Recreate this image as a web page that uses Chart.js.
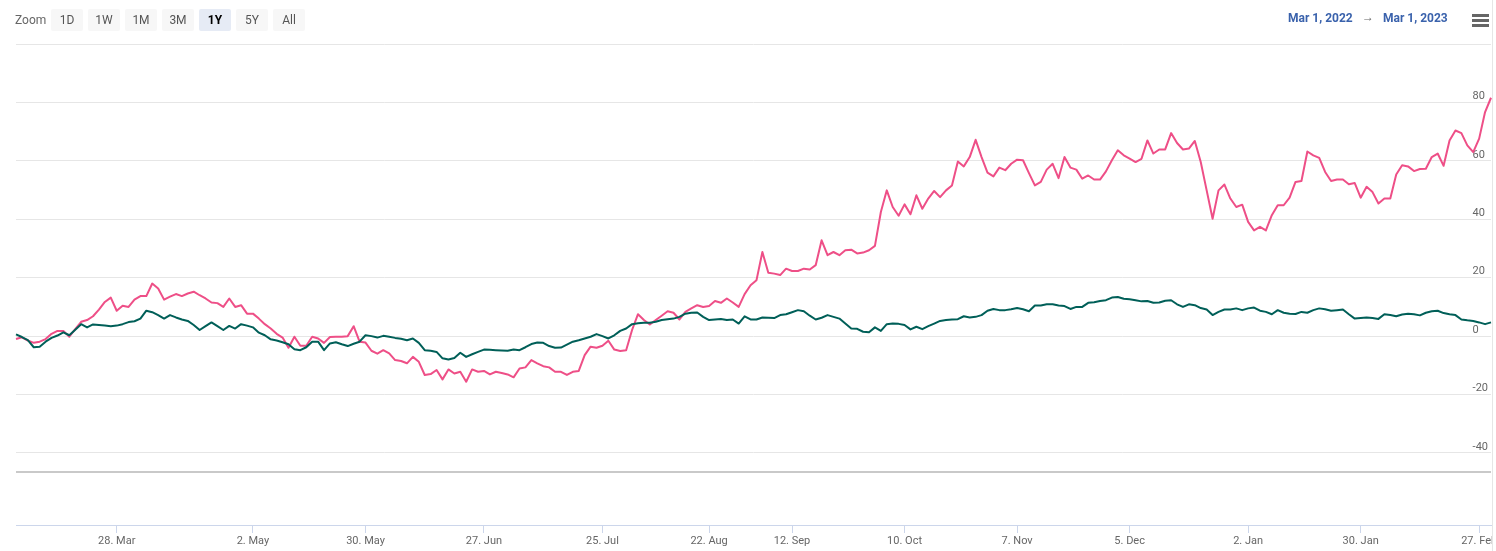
<!DOCTYPE html>
<html>
<head>
<meta charset="utf-8">
<title>1Y price change</title>
<script src="https://cdn.jsdelivr.net/npm/chart.js@4.4.1/dist/chart.umd.min.js"></script>
<style>
  html, body { margin: 0; padding: 0; background: #fff; }
  #wrap { position: relative; width: 1496px; height: 551px; overflow: hidden; font-family: Roboto, sans-serif; }
  #chartBox { position: absolute; left: 0; top: 0; width: 1496px; height: 551px; }
  .zoom-label { position: absolute; left: 15px; top: 13px; font-size: 12px; color: #666; }
  .btn { position: absolute; top: 9px; width: 32px; height: 22px; line-height: 22px; text-align: center;
         background: #f7f7f7; border-radius: 2px; font-size: 12px; color: #555; }
  .btn.active { background: #e6ebf5; color: #000; font-weight: bold; }
  .range { position: absolute; top: 11px; font-size: 12px; font-weight: bold; color: #3a62ac; }
  .arrow { position: absolute; top: 10px; left: 1362px; font-size: 12px; color: #666; }
  .menu span { position: absolute; left: 1472px; width: 17px; height: 3px; background: #666; }
  .edge { position: absolute; left: 1492px; top: 0; width: 4px; height: 551px; background: #fff; border-left: 1px solid #e6e6e6; }
</style>
</head>
<body>
<div id="wrap">
  <div id="chartBox"><canvas id="perfChart"></canvas></div>
  <div class="zoom-label">Zoom</div>
  <div class="btn" style="left:51px">1D</div>
  <div class="btn" style="left:88px">1W</div>
  <div class="btn" style="left:125px">1M</div>
  <div class="btn" style="left:162px">3M</div>
  <div class="btn active" style="left:199px">1Y</div>
  <div class="btn" style="left:236px">5Y</div>
  <div class="btn" style="left:273px">All</div>
  <div class="range" style="left:1288px">Mar 1, 2022</div>
  <div class="arrow">&rarr;</div>
  <div class="range" style="left:1383px">Mar 1, 2023</div>
  <div class="menu"><span style="top:14px"></span><span style="top:19px"></span><span style="top:24px"></span></div>
  <div class="edge"></div>
</div>
<script>
/* 1Y % change: stock vs index, trading days only */

const COLORS = {
  pink: '#ee4f87',
  green: '#005f58',
  grid: '#e6e6e6',
  navLine: '#c9c9c9',
  axis: '#ccd6eb',
  text: '#666666',
};

const FIRST_DAY = '2022-03-02';
const LAST_DAY = '2023-03-01';
const HOLIDAYS = [
  '2022-03-18', '2022-04-14', '2022-04-15', '2022-05-03', '2022-08-09', '2022-08-15',
  '2022-08-31', '2022-10-05', '2022-10-26', '2022-11-08', '2023-01-26',
];

const TICK_DATES = [
  '2022-03-28', '2022-05-02', '2022-05-30', '2022-06-27', '2022-07-25', '2022-08-22', '2022-09-12',
  '2022-10-10', '2022-11-07', '2022-12-05', '2023-01-02', '2023-01-30', '2023-02-27',
];
const TICK_LABELS = [
  '28. Mar', '2. May', '30. May', '27. Jun', '25. Jul', '22. Aug', '12. Sep',
  '10. Oct', '7. Nov', '5. Dec', '2. Jan', '30. Jan', '27. Feb',
];
const Y_TICKS = [-40, -20, 0, 20, 40, 60, 80, 100];
const Y_MIN = -64.65;
const Y_MAX = 100;
const NAV_LINE = -46.5;

// % change of the stock (pink)
const stockChange = [
  -1.0, -0.4, -1.5, -2.3, -1.9, -1.0, 0.8, 1.8, 1.8, -0.2,
  2.4, 4.9, 5.5, 6.8, 9.1, 11.7, 13.2, 8.7, 10.4, 10.0,
  12.5, 13.7, 13.7, 18.0, 16.3, 12.5, 13.5, 14.4, 13.7, 14.6,
  15.2, 14.0, 12.9, 11.5, 11.3, 10.0, 12.9, 10.0, 10.6, 7.7,
  7.7, 6.0, 4.1, 2.6, 0.8, -0.5, -4.0, -0.2, -3.3, -3.3,
  -0.2, -0.8, -2.3, -0.3, -0.2, -0.2, 0.0, 3.4, -1.9, -2.2,
  -5.0, -6.0, -4.8, -5.9, -8.2, -8.5, -9.3, -7.1, -8.8, -13.3,
  -13.0, -11.6, -14.8, -11.4, -12.8, -12.2, -15.6, -11.4, -12.2, -11.9,
  -13.1, -12.2, -12.6, -13.1, -14.1, -11.1, -10.7, -8.2, -9.3, -10.3,
  -10.7, -12.2, -12.2, -13.3, -12.2, -11.9, -6.5, -3.6, -4.0, -3.3,
  -1.6, -4.6, -5.1, -4.8, 2.1, 7.5, 5.5, 4.0, 5.5, 7.0,
  8.5, 8.0, 5.7, 8.3, 9.5, 10.6, 10.0, 10.3, 12.0, 11.4,
  12.9, 11.5, 10.0, 14.4, 17.4, 19.1, 28.8, 21.7, 21.4, 20.9,
  23.1, 22.3, 22.3, 23.1, 22.8, 24.3, 32.8, 27.7, 28.8, 27.7,
  29.4, 29.6, 28.3, 28.6, 29.4, 30.9, 42.5, 49.9, 44.2, 41.2,
  45.1, 41.7, 48.2, 43.6, 47.1, 49.7, 47.6, 49.9, 51.6, 59.8,
  58.1, 61.3, 67.2, 61.3, 56.0, 54.7, 57.7, 56.8, 59.0, 60.4,
  60.2, 55.8, 51.6, 52.8, 57.0, 59.0, 54.1, 61.3, 57.7, 57.0,
  53.9, 55.0, 53.6, 53.6, 56.4, 60.2, 63.6, 61.9, 60.8, 59.6,
  60.7, 67.0, 62.5, 63.9, 63.9, 69.5, 66.1, 63.9, 64.2, 66.8,
  59.6, 49.9, 40.2, 49.9, 51.9, 47.1, 44.2, 45.0, 39.1, 36.2,
  37.4, 36.2, 41.4, 44.8, 44.8, 47.4, 52.8, 53.1, 63.2, 61.9,
  61.0, 56.2, 53.1, 53.6, 53.6, 52.0, 52.4, 47.4, 51.1, 49.3,
  45.4, 47.1, 47.1, 55.3, 58.5, 58.1, 56.5, 57.2, 57.3, 61.3,
  62.5, 58.3, 67.0, 70.4, 69.5, 65.3, 63.0, 67.6, 76.7, 81.6,
];

// % change of the index (green)
const indexChange = [
  0.6, -0.3, -1.4, -3.8, -3.6, -1.9, -0.6, 0.2, 1.3, 0.3,
  2.2, 4.1, 3.0, 4.0, 3.8, 3.6, 3.4, 3.6, 4.1, 4.8,
  5.1, 6.0, 8.7, 8.2, 7.2, 6.0, 7.2, 6.4, 5.7, 5.2,
  3.8, 2.1, 3.4, 4.7, 3.4, 2.1, 3.5, 2.6, 4.1, 3.6,
  3.0, 1.2, 0.3, -1.1, -1.5, -2.1, -2.8, -4.5, -4.8, -3.8,
  -1.9, -1.9, -4.8, -2.5, -2.1, -2.8, -3.4, -2.6, -1.9, 0.3,
  0.0, -0.5, 0.1, -0.2, -0.6, -0.9, -1.4, -0.8, -2.3, -4.8,
  -5.0, -5.4, -7.6, -8.0, -7.5, -5.7, -7.1, -6.2, -5.4, -4.6,
  -4.7, -4.8, -4.9, -5.0, -4.6, -4.8, -3.8, -2.7, -2.2, -2.3,
  -3.4, -4.0, -3.9, -2.9, -1.9, -1.4, -0.8, -0.2, 0.7, 0.0,
  -0.8, 0.3, 1.8, 2.6, 4.1, 4.4, 4.6, 4.6, 4.9, 5.5,
  5.8, 6.0, 6.6, 7.7, 8.0, 8.1, 6.6, 5.5, 5.7, 5.9,
  5.5, 5.7, 4.3, 6.8, 5.7, 5.7, 6.4, 6.3, 6.2, 7.2,
  7.5, 8.2, 8.9, 8.5, 7.0, 5.7, 6.3, 7.2, 6.6, 6.0,
  4.3, 2.6, 2.5, 1.5, 1.3, 3.0, 1.8, 4.1, 4.3, 4.2,
  3.8, 2.3, 3.2, 2.4, 3.4, 4.3, 5.2, 5.5, 5.7, 5.8,
  6.8, 6.4, 6.6, 7.2, 8.7, 9.3, 8.9, 8.9, 9.2, 9.6,
  9.2, 8.5, 10.5, 10.5, 10.9, 10.9, 10.5, 10.3, 9.3, 10.0,
  10.0, 11.4, 11.6, 12.0, 12.3, 13.2, 13.4, 12.8, 12.6, 12.3,
  11.9, 12.0, 11.4, 11.5, 12.1, 12.3, 10.9, 10.0, 10.9, 10.6,
  9.6, 9.1, 7.2, 8.3, 9.1, 9.1, 9.5, 8.9, 9.5, 9.8,
  8.7, 8.3, 7.5, 8.9, 8.0, 7.7, 7.6, 8.3, 8.0, 8.9,
  9.5, 9.2, 8.7, 8.9, 9.1, 7.5, 6.0, 6.2, 6.4, 6.2,
  5.9, 7.5, 7.2, 6.8, 7.4, 7.7, 7.5, 7.1, 8.0, 8.5,
  8.7, 7.9, 7.5, 7.2, 5.7, 5.4, 5.2, 4.7, 4.1, 4.7,
];

const TICK_FONT = { family: 'Roboto', size: 11 };

document.addEventListener('DOMContentLoaded', () => {
  renderPerformance(tradingDays());
});

function tradingDays() {
  const days = [];
  const d = new Date(FIRST_DAY + 'T00:00:00Z');
  const end = new Date(LAST_DAY + 'T00:00:00Z');
  while (d <= end) {
    const iso = d.toISOString().slice(0, 10);
    const wd = d.getUTCDay();
    if (wd !== 0 && wd !== 6 && !HOLIDAYS.includes(iso)) days.push(iso);
    d.setUTCDate(d.getUTCDate() + 1);
  }
  return days;
}

function renderPerformance(labels) {
  new Chart(document.getElementById('perfChart'), {
    type: 'line',
    data: {
      labels,
      datasets: [
        { label: 'Index', data: indexChange, borderColor: COLORS.green, borderWidth: 2, pointRadius: 0, tension: 0, borderJoinStyle: 'round' },
        { label: 'Stock', data: stockChange, borderColor: COLORS.pink, borderWidth: 2, pointRadius: 0, tension: 0, borderJoinStyle: 'round' },
      ],
    },
    options: {
      responsive: true,
      maintainAspectRatio: false,
      animation: false,
      layout: { padding: { left: 16, right: 5, top: 44, bottom: 0.8 } },
      plugins: { legend: { display: false }, tooltip: { enabled: false } },
      scales: {
        x: {
          type: 'category',
          offset: false,
          grid: { drawOnChartArea: false, drawTicks: true, tickLength: 8, color: COLORS.axis },
          border: { color: COLORS.axis, width: 1 },
          ticks: {
            autoSkip: false,
            maxRotation: 0,
            padding: 2,
            color: COLORS.text,
            font: TICK_FONT,
            callback: function (value) {
              return TICK_LABELS[TICK_DATES.indexOf(this.getLabelForValue(value))];
            },
          },
          afterBuildTicks: (axis) => {
            axis.ticks = axis.ticks.filter((t) => TICK_DATES.includes(labels[t.value]));
          },
          afterFit: (axis) => { axis.paddingLeft = 0; axis.paddingRight = 0; },
        },
        y: {
          position: 'right',
          min: Y_MIN,
          max: Y_MAX,
          grid: {
            drawTicks: false,
            color: (ctx) => (ctx.tick && ctx.tick.value === NAV_LINE ? COLORS.navLine : COLORS.grid),
            lineWidth: (ctx) => (ctx.tick && ctx.tick.value === NAV_LINE ? 2 : 1),
          },
          border: { display: false },
          ticks: {
            mirror: true,
            crossAlign: 'far',
            padding: -3,
            labelOffset: -6,
            color: COLORS.text,
            font: TICK_FONT,
            callback: (v) => (v === NAV_LINE || v === Y_MAX ? '' : v),
          },
          afterBuildTicks: (axis) => {
            axis.ticks = [NAV_LINE, ...Y_TICKS].map((v) => ({ value: v }));
          },
          afterFit: (axis) => { axis.width = 0; axis.paddingTop = 0; axis.paddingBottom = 0; },
        },
      },
    },
  });
}
</script>
</body>
</html>
